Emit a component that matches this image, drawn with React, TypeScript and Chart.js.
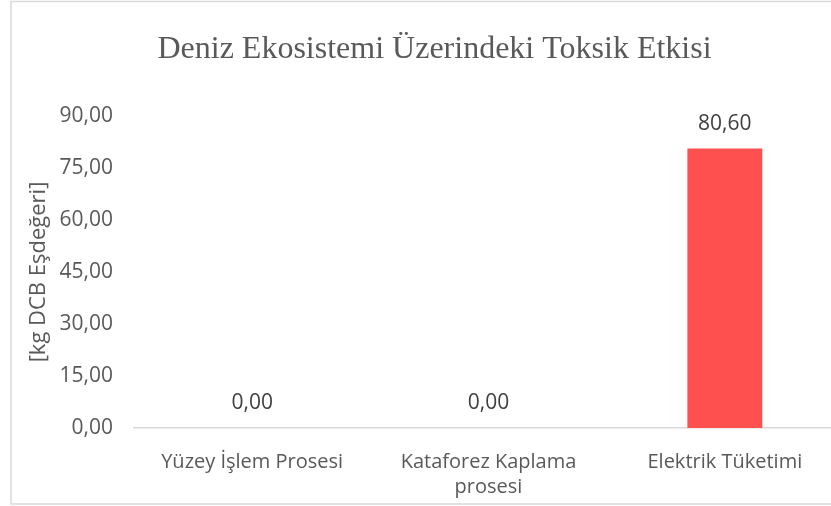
import React, { useEffect, useRef } from "react";
import { Chart, registerables } from "chart.js";

Chart.register(...registerables);

const categories: (string | string[])[] = [
  "Yüzey İşlem Prosesi",
  ["Kataforez Kaplama", "prosesi"],
  "Elektrik Tüketimi",
];
const values: number[] = [0, 0, 80.6];
const yTicks: number[] = [0, 15, 30, 45, 60, 75, 90];
const chartTitle = "Deniz Ekosistemi Üzerindeki Toksik Etkisi";
const yTitle = "[kg DCB Eşdeğeri]";

const fmt = (v: number) => v.toFixed(2).replace(".", ",");

const SANS = "'Open Sans', 'Noto Sans', sans-serif";
const GREY = "#595959";

const borderPlugin = {
  id: "frame",
  beforeDraw(chart: any) {
    const ctx = chart.ctx;
    ctx.save();
    ctx.fillStyle = "#ffffff";
    ctx.fillRect(0, 0, chart.width, chart.height);
    ctx.strokeStyle = "#d9d9d9";
    ctx.lineWidth = 1.5;
    ctx.strokeRect(11, 1.5, chart.width + 20, 502.5);
    ctx.restore();
  },
};

const valueLabels = {
  id: "valueLabels",
  afterDatasetsDraw(chart: any) {
    const ctx = chart.ctx;
    const meta = chart.getDatasetMeta(0);
    ctx.save();
    ctx.font = `21px ${SANS}`;
    ctx.fillStyle = "#404040";
    ctx.textAlign = "center";
    ctx.textBaseline = "middle";
    meta.data.forEach((bar: any, i: number) => {
      ctx.fillText(fmt(values[i]), bar.x, bar.y - 25);
    });
    ctx.restore();
  },
};

export default function App() {
  const ref = useRef<HTMLCanvasElement>(null);
  useEffect(() => {
    if (!ref.current) return;
    const chart = new Chart(ref.current, {
      type: "bar",
      data: {
        labels: categories,
        datasets: [
          {
            data: values,
            backgroundColor: "#FF5050",
            borderWidth: 0,
            categoryPercentage: 1,
            barPercentage: 0.317,
          },
        ],
      },
      options: {
        animation: false,
        responsive: false,
        layout: { padding: { left: 26, right: 26, top: 0, bottom: 0 } },
        plugins: {
          legend: { display: false },
          tooltip: { enabled: false },
          title: {
            display: true,
            text: chartTitle,
            color: GREY,
            font: { family: "'Liberation Serif', serif", size: 32, weight: "normal" },
            padding: { top: 30, bottom: 47.6 },
          },
        },
        scales: {
          x: {
            grid: { display: false, drawTicks: false },
            border: { display: true, color: "#d9d9d9", width: 1.5 },
            ticks: {
              color: GREY,
              font: { family: SANS, size: 20, lineHeight: 1.25 },
              padding: 22,
              maxRotation: 0,
              autoSkip: false,
            },
            afterFit(scale: any) {
              scale.height = 78;
            },
          },
          y: {
            min: 0,
            max: 90,
            grid: { display: false, drawTicks: false },
            border: { display: false },
            afterBuildTicks(scale: any) {
              scale.ticks = yTicks.map((v) => ({ value: v }));
            },
            ticks: {
              color: GREY,
              font: { family: SANS, size: 21 },
              padding: 21,
              callback: (v: any) => fmt(Number(v)),
            },
            title: {
              display: true,
              text: yTitle,
              color: GREY,
              font: { family: SANS, size: 22 },
              padding: { top: 0, bottom: 0 },
            },
            afterFit(scale: any) {
              scale.width = 108;
            },
          },
        },
      },
      plugins: [borderPlugin, valueLabels],
    });
    return () => chart.destroy();
  }, []);
  return (
    <div style={{ position: "fixed", left: 0, top: 0, width: 831, height: 506, overflow: "hidden", background: "#fff" }}>
      <canvas ref={ref} width={869} height={506} style={{ display: "block" }} />
    </div>
  );
}
